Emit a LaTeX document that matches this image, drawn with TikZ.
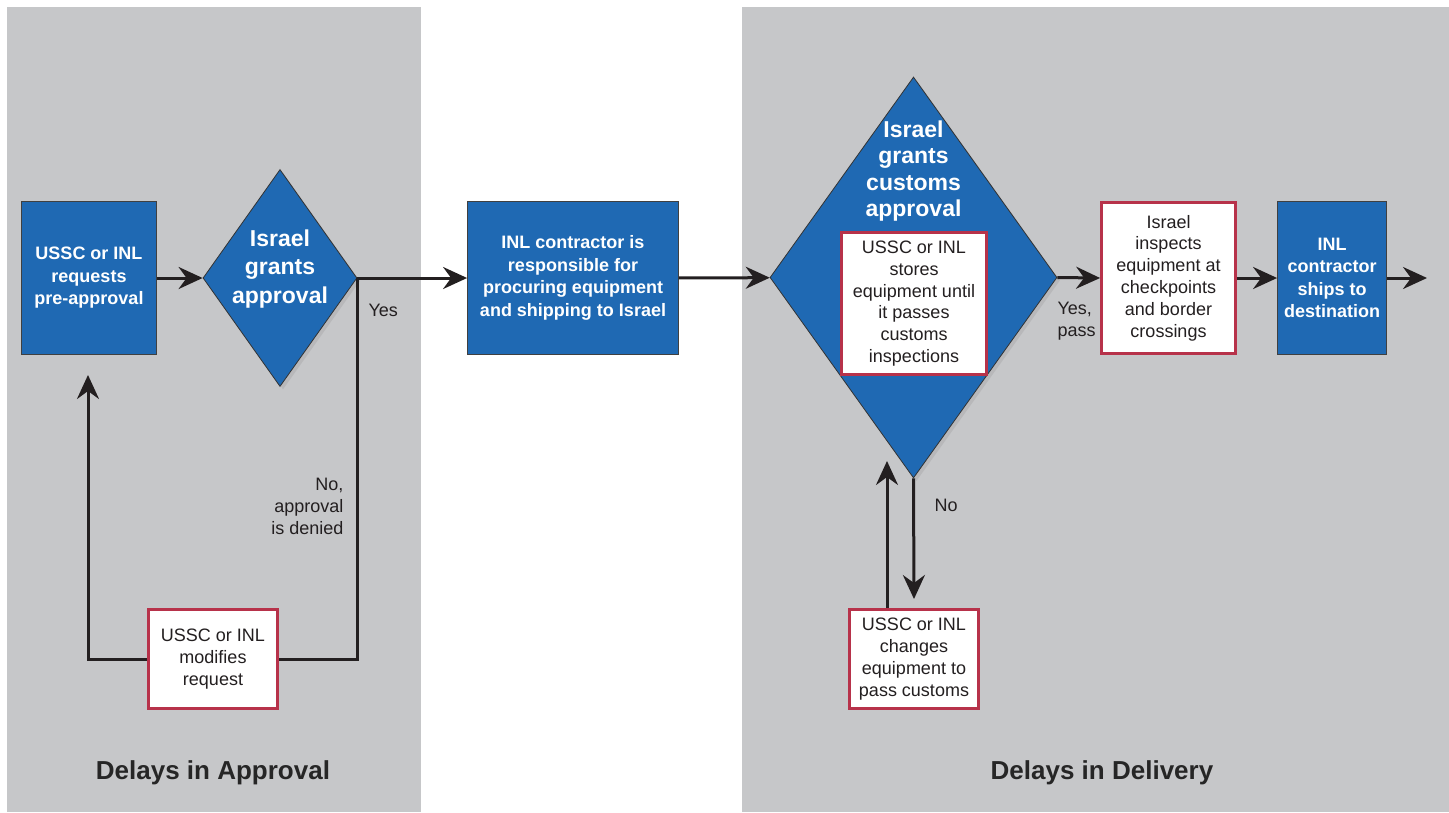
\documentclass[tikz,border=0pt]{standalone}
\usepackage{fontspec}
\setmainfont{Liberation Sans}
\usetikzlibrary{shapes.geometric,arrows.meta,shadows}
\definecolor{panelgray}{HTML}{C6C7C9}
\definecolor{inlblue}{HTML}{1F69B3}
\definecolor{boxred}{HTML}{B7324A}
\definecolor{inkdark}{HTML}{231F20}

\begin{document}
\begin{tikzpicture}[x=1pt,y=-1pt,
   bluebox/.style={rectangle,fill=inlblue,draw=black!75,line width=0.8pt,text=white,align=center,inner sep=0pt,
     font=\fontsize{18}{22.5}\selectfont\bfseries},
   redbox/.style={rectangle,fill=white,draw=boxred,line width=2.8pt,text=inkdark,align=center,inner sep=0pt,
     font=\fontsize{18}{21.8}\selectfont},
   decision/.style={diamond,fill=inlblue,draw=black!80,line width=0.8pt,inner sep=0pt,
     drop shadow={shadow xshift=3pt,shadow yshift=-3pt,opacity=0.2}},
   dtext/.style={text=white,align=center,font=\fontsize{23}{28.5}\selectfont\bfseries},
   note/.style={text=inkdark,font=\fontsize{18}{22}\selectfont},
   paneltitle/.style={text=black!85,font=\fontsize{26}{30}\selectfont\bfseries},
   arr/.style={draw=inkdark,line width=3pt,-{Stealth[length=24pt,width=22pt,inset=8pt]}}]
   \useasboundingbox (0,0) rectangle (1449,812);
   % the two grey panels
   \fill[panelgray] (7,7) rectangle (421,812);
   \fill[panelgray] (742,7) rectangle (1449,812);
   \node[paneltitle] (approvaltitle) at (213,773) {Delays in Approval};
   \node[paneltitle] (deliverytitle) at (1102,773) {Delays in Delivery};

   % approval part
   \node[bluebox,minimum width=135pt,minimum height=153pt] (req) at (89,278) {USSC or INL\\requests\\pre-approval};
   \node[decision,minimum width=154pt,minimum height=217pt] (grant) at (280,278) {};
   \node[dtext] (granttxt) at (280,269) {Israel\\grants\\approval};
   \node[redbox,minimum width=129pt,minimum height=99pt] (modify) at (213,659) {USSC or INL\\modifies\\request};
   \node[note,anchor=west] (yes) at (365,310) {Yes};
   \node[note,align=right,anchor=east] (denied) at (347,506) {No,\\approval\\is denied};
   \coordinate (backtip) at (88,375);

   \node[bluebox,minimum width=211pt,minimum height=153pt] (proc) at (573,278)
     {INL contractor is\\responsible for\\procuring equipment\\and shipping to Israel};

   % delivery part
   \node[decision,minimum width=287pt,minimum height=401pt] (customs) at (913.5,277.5) {};
   \node[dtext,font=\fontsize{23}{26.5}\selectfont\bfseries] (customstxt) at (913.5,171) {Israel\\grants\\customs\\approval};
   \node[redbox,minimum width=145pt,minimum height=142pt] (store) at (914,303.5)
     {USSC or INL\\stores\\equipment until\\it passes\\customs\\inspections};
   \node[redbox,minimum width=134pt,minimum height=151pt] (inspect) at (1168.5,278)
     {Israel\\inspects\\equipment at\\checkpoints\\and border\\crossings};
   \node[bluebox,minimum width=109pt,minimum height=153pt] (ship) at (1332,278) {INL\\contractor\\ships to\\destination};
   \node[redbox,minimum width=129pt,minimum height=99pt] (change) at (914,659)
     {USSC or INL\\changes\\equipment to\\pass customs};
   \node[note,align=left,anchor=west] (pass) at (1054,321) {Yes,\\pass};
   \node[note,anchor=west] (no) at (931,505) {No};
   \coordinate (fwdtip) at (1427,278);
   \coordinate (downtip) at (914,599);
   \coordinate (uptip) at (887,461);

   \draw[arr] (req) -- (grant);
   \draw[arr] (grant.east) -- (proc.west);
   \draw[draw=inkdark,line width=3pt] (grant.east) |- (modify.east);
   \draw[arr] (modify.west) -| (backtip);
   \draw[arr] (proc) -- (customs);
   \draw[arr] (customs.east) -- (inspect.west);
   \draw[arr] (inspect) -- (ship);
   \draw[arr] (ship) -- (fwdtip);
   \draw[arr] (customs.south) -- (downtip);
   \draw[arr] (change.north -| uptip) -- (uptip);
\end{tikzpicture}
\end{document}
